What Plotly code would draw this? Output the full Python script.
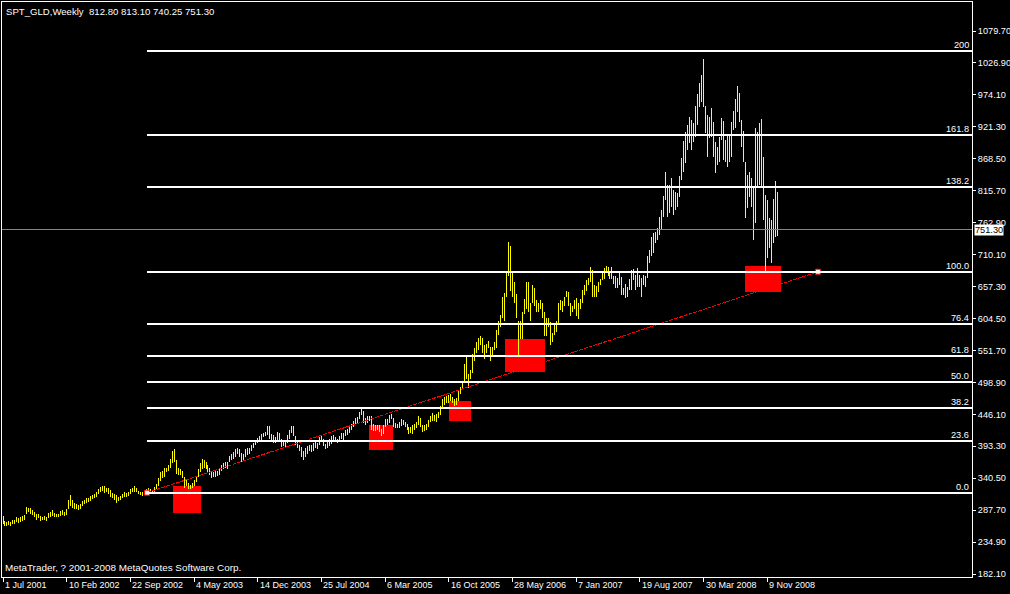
import plotly.graph_objects as go

# ---------------- data ----------------
chart_title = "SPT_GLD,Weekly  812.80 813.10 740.25 751.30"
copyright_text = "MetaTrader, ? 2001-2008 MetaQuotes Software Corp."

# weekly bars (index 0 = week of 1 Jul 2001), lows and highs
lows = [
    # 2001
    265, 262, 261, 263, 262, 264, 265, 268, 267, 268, 270, 272, 282, 284, 282, 280, 276, 272, 274, 270,
    271, 272, 270, 275, 276, 278,
    # 2002
    277, 276,
    276, 278, 280, 278, 280, 290, 295, 292, 290, 290, 288, 290, 295, 298, 300, 301, 303, 306, 307, 310,
    315, 317, 320, 316, 318, 314, 310, 308, 305, 300, 302, 304, 307, 310, 309, 311, 314, 318, 318, 317,
    314, 312, 311, 313, 316, 317, 316, 316, 318, 322, 328, 336, 340,
    # 2003
    343, 350, 352, 358, 365, 368, 348, 345, 345, 340, 325, 327, 322, 322, 325, 328, 335, 343, 350, 355,
    358, 355, 350, 345, 340, 342, 343, 344, 345, 352, 355, 358, 356, 368, 370, 372, 376, 380, 376, 368,
    370, 375, 378, 380, 385, 390, 395, 398, 400, 403, 408, 410,
    # 2004
    412, 405, 404, 398, 398, 403, 400, 392, 394, 390, 398, 405, 415, 410, 395, 390, 385, 375, 371, 375,
    380, 385, 383, 386, 390, 388, 395, 400, 394, 388, 390, 393, 397, 401, 403, 398, 400, 405, 404, 410,
    412, 415, 420, 425, 430, 432, 438, 445, 432, 428, 432, 435,
    # 2005
    420, 418, 418, 420, 417, 411, 414, 425, 428, 432, 438, 425, 424, 423, 424, 426, 428, 425, 420, 414,
    416, 414, 420, 423, 428, 425, 417, 419, 420, 425, 433, 435, 435, 433, 440, 445, 455, 462, 465,
    465, 468, 465, 460, 462, 468, 480, 490, 500, 505, 490, 505,
    # 2006
    515, 535, 547, 553, 560, 548, 538, 548, 555, 535, 540, 552, 555, 578, 590, 605, 600, 640, 675, 650,
    640, 630, 605, 543, 570, 570, 612, 620, 615, 600, 630, 625, 615, 615, 620, 605, 575, 575, 590, 560,
    565, 578, 582, 595, 618, 615, 625, 640, 625, 608, 615, 620, 608,
    # 2007
    603, 620, 630, 643, 650, 660, 665, 640, 640, 640, 648, 660, 668, 670, 680, 675, 670, 670, 662, 655,
    655, 660,
    643, 643, 638, 640, 651, 651, 668, 651, 656, 656, 640, 660, 656, 671, 696, 708, 713, 729, 734, 742,
    751, 772, 800, 772, 779, 789, 775, 784, 789,
    # 2008
    805, 833, 847, 862, 883, 894, 883, 896, 904, 924, 954, 963, 954, 911, 871, 903, 904, 871, 845, 858,
    863, 900, 866, 863, 855, 863, 871, 916, 919, 946, 929, 888, 863, 770, 787, 805, 789, 734, 762, 822,
    825, 822, 767, 681, 704, 721, 696, 729, 739, 740.25,
]
highs = [
    # 2001
    278, 270, 268, 270, 268, 271, 272, 276, 275, 276, 278, 280, 293, 292, 291, 288, 284, 282, 281, 278,
    277, 278, 276, 283, 285, 288,
    # 2002
    283, 282,
    282, 286, 288, 285, 290, 305, 312, 305, 299, 297, 296, 298, 303, 305, 307, 308, 311, 312, 315, 318,
    322, 326, 328, 327, 325, 324, 321, 316, 315, 312, 310, 311, 314, 318, 316, 318, 322, 325, 327, 324,
    320, 318, 318, 320, 323, 324, 322, 321, 326, 331, 340, 350, 352,
    # 2003
    357, 358, 362, 372, 385, 388, 370, 357, 356, 352, 342, 338, 333, 330, 333, 337, 343, 355, 365, 372,
    370, 367, 362, 358, 352, 350, 354, 352, 356, 363, 366, 368, 368, 377, 380, 383, 389, 390, 388, 382,
    380, 388, 390, 390, 396, 399, 401, 407, 410, 413, 416, 417,
    # 2004
    427, 426, 414, 412, 408, 417, 415, 405, 402, 402, 412, 420, 427, 426, 410, 403, 396, 392, 385, 390,
    393, 395, 395, 398, 400, 398, 408, 410, 405, 397, 402, 405, 410, 412, 408, 406, 410, 415, 415, 420,
    422, 425, 430, 435, 440, 442, 450, 456, 452, 440, 443, 444,
    # 2005
    443, 430, 428, 428, 428, 421, 428, 438, 438, 445, 446, 440, 432, 430, 434, 438, 437, 434, 430, 425,
    425, 428, 430, 433, 443, 440, 428, 429, 430, 436, 444, 448, 445, 447, 450, 460, 472, 475, 476,
    478, 480, 475, 472, 473, 487, 492, 500, 530, 541, 513, 520,
    # 2006
    545, 555, 565, 573, 575, 572, 560, 562, 568, 558, 557, 565, 585, 600, 610, 640, 646, 683, 731, 725,
    680, 665, 645, 600, 600, 615, 636, 665, 665, 630, 660, 655, 635, 630, 635, 630, 615, 605, 605, 598,
    580, 595, 600, 630, 635, 633, 640, 650, 648, 630, 625, 635, 638,
    # 2007
    630, 636, 652, 660, 668, 672, 690, 685, 660, 658, 665, 670, 680, 688, 692, 690, 683, 690, 675, 675,
    672, 680,
    673, 655, 661, 656, 670, 685, 686, 676, 688, 676, 671, 676, 675, 708, 718, 739, 746, 747, 754, 772,
    784, 807, 847, 825, 825, 837, 817, 813, 812,
    # 2008
    840, 870, 898, 913, 924, 937, 933, 928, 956, 976, 994, 1007, 1033, 956, 941, 938, 952, 929, 896, 888,
    904, 936, 931, 900, 910, 908, 929, 947, 967, 988, 977, 932, 914, 863, 842, 847, 837, 822, 919, 913,
    928, 935, 871, 808, 800, 770, 768, 802, 832, 813.10,
]

x_tick_labels = ["1 Jul 2001", "10 Feb 2002", "22 Sep 2002", "4 May 2003", "14 Dec 2003",
                 "25 Jul 2004", "6 Mar 2005", "16 Oct 2005", "28 May 2006", "7 Jan 2007",
                 "19 Aug 2007", "30 Mar 2008", "9 Nov 2008"]
x_tick_index = [0, 32, 64, 96, 128, 160, 192, 224, 256, 288, 320, 352, 384]

y_tick_values = [182.10, 234.90, 287.70, 340.50, 393.30, 446.10, 498.90, 551.70, 604.50,
                 657.30, 710.10, 762.90, 815.70, 868.50, 921.30, 974.10, 1026.90, 1079.70]

# Fibonacci retracement object
fib_levels = [0.0, 23.6, 38.2, 50.0, 61.8, 76.4, 100.0, 138.2, 161.8, 200.0]
fib_labels = ["0.0", "23.6", "38.2", "50.0", "61.8", "76.4", "100.0", "138.2", "161.8", "200"]
fib_price_0 = 316.5
fib_price_100 = 681.8
fib_index_0 = 72.4
fib_index_100 = 409.5

# red rectangles (index range, price range)
box_x0 = [85.4, 183.9, 224.1, 252.3, 372.9]
box_x1 = [99.5, 196.0, 235.2, 272.4, 391.0]
box_y0 = [282.9, 387.1, 435.0, 516.0, 648.2]
box_y1 = [327.6, 428.4, 468.1, 570.6, 691.2]

bid_price = 751.30

# ---------------- figure ----------------
X_MIN, X_MAX = -0.503, 486.9
Y_MIN, Y_MAX = 177.14, 1127.64
FONT = "Liberation Sans, Arial, sans-serif"
FS_NUM = 9.2     # numeric labels (axis, fib levels)
FS_DATE = 9.0    # date labels
FS_TITLE = 9.6
FS_COPY = 9.9

fig = go.Figure()

# high-low bars as vertical segments
bx, by = [], []
for i, (lo, hi) in enumerate(zip(lows, highs)):
    bx += [i, i, None]
    by += [lo, hi, None]
fig.add_trace(go.Scatter(x=bx, y=by, mode="lines", line=dict(color="#ffff00", width=1),
                         hoverinfo="skip", showlegend=False, connectgaps=False))

shapes = []
for x0, x1, y0, y1 in zip(box_x0, box_x1, box_y0, box_y1):
    shapes.append(dict(type="rect", xref="x", yref="y", x0=x0, x1=x1, y0=y0, y1=y1,
                       fillcolor="#ff0000", line=dict(width=0), layer="below"))

fib_prices = [fib_price_0 + (fib_price_100 - fib_price_0) * p / 100.0 for p in fib_levels]
for fp in fib_prices:
    shapes.append(dict(type="line", xref="x", yref="y", x0=fib_index_0, x1=X_MAX,
                       y0=fp, y1=fp, line=dict(color="#ffffff", width=2), layer="above"))

shapes.append(dict(type="line", xref="paper", yref="y", x0=0, x1=1, y0=bid_price, y1=bid_price,
                   line=dict(color="#778899", width=1), layer="above"))
fig.update_layout(shapes=shapes)

fig.add_trace(go.Scatter(
    x=[fib_index_0, fib_index_100], y=[fib_price_0, fib_price_100], mode="lines",
    line=dict(color="#ff0000", width=1, dash="4px,1px"), hoverinfo="skip", showlegend=False))
fig.add_trace(go.Scatter(
    x=[fib_index_0, fib_index_100], y=[fib_price_0, fib_price_100], mode="markers",
    marker=dict(symbol="square", size=5, color="#ffffff", line=dict(color="#ff0000", width=1)),
    hoverinfo="skip", showlegend=False))

annotations = []
for lab, fp in zip(fib_labels, fib_prices):
    annotations.append(dict(xref="paper", yref="y", x=0.9985, y=fp, text=lab, showarrow=False,
                            xanchor="right", yanchor="bottom", yshift=-1,
                            font=dict(family=FONT, size=FS_NUM, color="#ffffff")))
for lab, xi in zip(x_tick_labels, x_tick_index):
    annotations.append(dict(xref="x", yref="paper", x=xi, y=0, text=lab, showarrow=False,
                            xanchor="left", yanchor="top", xshift=0, yshift=-1,
                            font=dict(family=FONT, size=FS_DATE, color="#ffffff")))
annotations.append(dict(xref="paper", yref="paper", x=0, y=1, text=chart_title, showarrow=False,
                        xanchor="left", yanchor="top", xshift=2, yshift=-2,
                        font=dict(family=FONT, size=FS_TITLE, color="#ffffff")))
annotations.append(dict(xref="paper", yref="paper", x=0, y=0, text=copyright_text, showarrow=False,
                        xanchor="left", yanchor="bottom", xshift=1, yshift=2,
                        font=dict(family=FONT, size=FS_COPY, color="#ffffff")))
annotations.append(dict(xref="paper", yref="y", x=1, y=bid_price, text="751.30", showarrow=False,
                        xanchor="left", yanchor="middle", xshift=2, bgcolor="#ffffff", borderpad=0,
                        font=dict(family=FONT, size=FS_NUM, color="#000000")))

fig.update_layout(
    width=1010, height=594,
    margin=dict(l=2, r=38, t=2, b=17, pad=0),
    paper_bgcolor="#000000", plot_bgcolor="#000000",
    annotations=annotations,
    xaxis=dict(range=[X_MIN, X_MAX], showgrid=False, zeroline=False,
               showline=True, linecolor="#ffffff", linewidth=1, mirror=True,
               tickmode="array", tickvals=x_tick_index, ticktext=[""] * len(x_tick_index),
               ticks="outside", ticklen=4, tickcolor="#ffffff", tickwidth=1,
               showticklabels=False, automargin=False, fixedrange=True),
    yaxis=dict(range=[Y_MIN, Y_MAX], side="right", showgrid=False, zeroline=False,
               showline=True, linecolor="#ffffff", linewidth=1, mirror=True,
               tickmode="array", tickvals=y_tick_values,
               ticktext=["%.2f" % v for v in y_tick_values],
               ticks="outside", ticklen=3, tickcolor="#ffffff", tickwidth=1,
               tickfont=dict(family=FONT, size=FS_NUM, color="#ffffff"),
               automargin=False, fixedrange=True),
    showlegend=False,
)

page_css = (
    "var s=document.createElement('style');"
    "s.textContent='html,body{margin:0;padding:0;background:#000;}"
    ".scatterlayer path.js-line{shape-rendering:crispEdges;}"
    ".shapelayer path{shape-rendering:crispEdges;}';"
    "document.head.appendChild(s);"
)
fig.write_html("out.html", post_script=page_css,
               config={"displayModeBar": False, "staticPlot": True})
